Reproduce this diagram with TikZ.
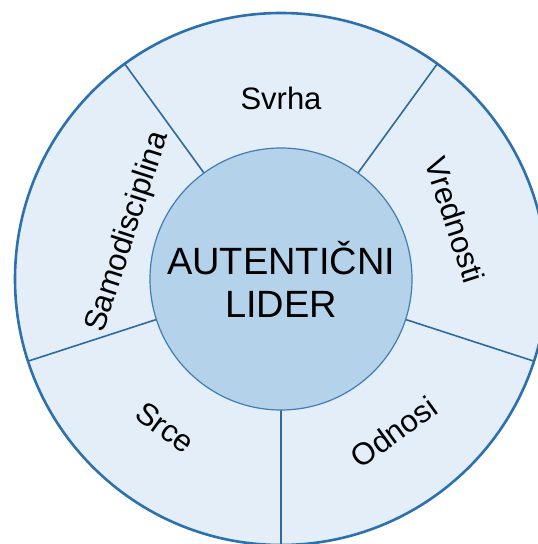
\documentclass[tikz,border=0pt]{standalone}
\usepackage{fontspec}
\usetikzlibrary{calc}
\setmainfont{Liberation Sans}
\definecolor{ringfill}{HTML}{E4EEF8}
\definecolor{hubfill}{HTML}{B4D2EA}
\definecolor{rimline}{HTML}{2C71AE}
\definecolor{spokeline}{HTML}{2E6A9C}
\definecolor{hubline}{HTML}{3F7DB2}
\begin{document}
\begin{tikzpicture}[x=1pt,y=1pt,
  rim/.style={circle, draw=rimline, fill=ringfill, line width=2.6pt,
              minimum size=532pt, inner sep=0pt, outer sep=0pt},
  hub/.style={circle, draw=hubline, fill=hubfill, line width=1.2pt,
              minimum size=262pt, inner sep=0pt, outer sep=0pt,
              align=center, font=\fontsize{38}{43}\selectfont},
  spoke/.style={draw=spokeline, line width=1.6pt},
  petal/.style={font=\fontsize{31}{37}\selectfont, inner sep=0pt}]
  \useasboundingbox (0,0) rectangle (538,544);
  \clip (0,0) rectangle (538,544);
  \fill[white] (0,0) rectangle (538,544);
  \coordinate (c) at (281,265);
  % outer ring
  \node[rim] (ring) at (c) {};
  % spokes between the five segments
  \foreach \a in {270,342,54,126,198}
    \draw[spoke] (c) ++(\a:131) -- (ring.\a);
  % centre disc
  \node[hub] (hub) at (c) {AUTENTIČNI\\LIDER};
  % segment labels
  \node[petal] (svrha) at ($(c)+(90:181)$) {Svrha};
  \node[petal, rotate=-72] (vred) at ($(c)+(18.7:184)$) {Vrednosti};
  \node[petal, rotate=36] (odn) at ($(c)+(306.4:190)$) {Odnosi};
  \node[petal, rotate=-36] (srce) at ($(c)+(232:188)$) {Srce};
  \node[petal, rotate=72] (samo) at ($(c)+(163:160)$) {Samodisciplina};
\end{tikzpicture}
\end{document}
